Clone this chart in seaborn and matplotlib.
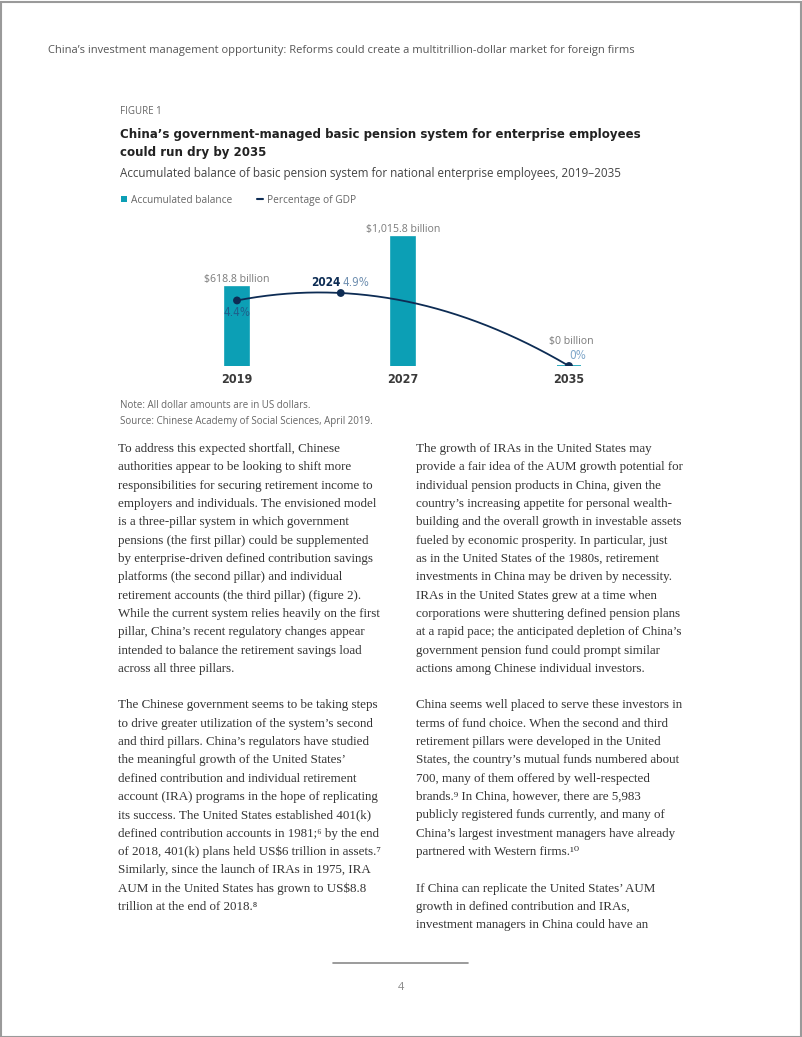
import numpy as np
import pandas as pd
import matplotlib
matplotlib.use("Agg")
import matplotlib.pyplot as plt
from matplotlib import font_manager as fm
from matplotlib.patches import Rectangle, Patch
from matplotlib.lines import Line2D
import seaborn as sns

# chart data
years = [2019, 2027, 2035]
balance_bn = [618.8, 1015.8, 0.0]
balance_labels = ["$618.8 billion", "$1,015.8 billion", "$0 billion"]
gdp_years = [2019, 2024, 2035]
gdp_pct = [4.4, 4.9, 0.0]
gdp_labels = ["4.4%", "4.9%", "0%"]

header = "China’s investment management opportunity: Reforms could create a multitrillion-dollar market for foreign firms"
fig_label = "FIGURE 1"
title_lines = ["China’s government-managed basic pension system for enterprise employees",
               "could run dry by 2035"]
subtitle = "Accumulated balance of basic pension system for national enterprise employees, 2019–2035"
notes = ["Note: All dollar amounts are in US dollars.",
         "Source: Chinese Academy of Social Sciences, April 2019."]

left_col = [
    "To address this expected shortfall, Chinese",
    "authorities appear to be looking to shift more",
    "responsibilities for securing retirement income to",
    "employers and individuals. The envisioned model",
    "is a three-pillar system in which government",
    "pensions (the first pillar) could be supplemented",
    "by enterprise-driven defined contribution savings",
    "platforms (the second pillar) and individual",
    "retirement accounts (the third pillar) (figure 2).",
    "While the current system relies heavily on the first",
    "pillar, China’s recent regulatory changes appear",
    "intended to balance the retirement savings load",
    "across all three pillars.",
    "",
    "The Chinese government seems to be taking steps",
    "to drive greater utilization of the system’s second",
    "and third pillars. China’s regulators have studied",
    "the meaningful growth of the United States’",
    "defined contribution and individual retirement",
    "account (IRA) programs in the hope of replicating",
    "its success. The United States established 401(k)",
    "defined contribution accounts in 1981;⁶ by the end",
    "of 2018, 401(k) plans held US$6 trillion in assets.⁷",
    "Similarly, since the launch of IRAs in 1975, IRA",
    "AUM in the United States has grown to US$8.8",
    "trillion at the end of 2018.⁸",
]
right_col = [
    "The growth of IRAs in the United States may",
    "provide a fair idea of the AUM growth potential for",
    "individual pension products in China, given the",
    "country’s increasing appetite for personal wealth-",
    "building and the overall growth in investable assets",
    "fueled by economic prosperity. In particular, just",
    "as in the United States of the 1980s, retirement",
    "investments in China may be driven by necessity.",
    "IRAs in the United States grew at a time when",
    "corporations were shuttering defined pension plans",
    "at a rapid pace; the anticipated depletion of China’s",
    "government pension fund could prompt similar",
    "actions among Chinese individual investors.",
    "",
    "China seems well placed to serve these investors in",
    "terms of fund choice. When the second and third",
    "retirement pillars were developed in the United",
    "States, the country’s mutual funds numbered about",
    "700, many of them offered by well-respected",
    "brands.⁹ In China, however, there are 5,983",
    "publicly registered funds currently, and many of",
    "China’s largest investment managers have already",
    "partnered with Western firms.¹⁰",
    "",
    "If China can replicate the United States’ AUM",
    "growth in defined contribution and IRAs,",
    "investment managers in China could have an",
]

TEAL = "#0c9fb5"
NAVY = "#0d2c54"
GREY = "#7a7a7a"
SANS = ["Open Sans", "DejaVu Sans"]
SERIF = ["Liberation Serif", "DejaVu Serif"]


def narrow_face(bold):
    # look for any installed condensed / narrow sans face, else fall back to Roboto
    for f in fm.fontManager.ttflist:
        w = f.weight if isinstance(f.weight, int) else fm.weight_dict.get(f.weight, 400)
        narrow = ("Narrow" in f.name or "Condensed" in f.name
                  or f.stretch in ("condensed", "semi-condensed"))
        if narrow and "Sans" in f.name and f.style == "normal" and ((w >= 600) == bold):
            return fm.FontProperties(fname=f.fname)
    return fm.FontProperties(family=["Roboto", "DejaVu Sans"], weight="bold" if bold else "normal")


NARROW_B = narrow_face(True)
NARROW_R = narrow_face(False)


def fp(base, size):
    p = base.copy()
    p.set_size(size)
    return p


sns.set_theme(style="white")
plt.rcParams["font.family"] = SANS

W, H = 802, 1037
fig = plt.figure(figsize=(W / 100, H / 100), dpi=100)
fig.patch.set_facecolor("white")


def put(x, y, s, **kw):
    kw.setdefault("va", "center")
    kw.setdefault("parse_math", False)
    return fig.text(x / W, 1 - y / H, s, **kw)


# page frame and header
fig.add_artist(Rectangle((0.5 / W, 0.5 / H), 1 - 2 / W, 1 - 2 / H, transform=fig.transFigure,
                         fill=False, edgecolor="#9a9a9a", lw=1.5))
put(48, 51, header, fontsize=8.0, color="#555555", family=SANS)

# figure headings
put(120, 112, fig_label, fontsize=7, color="#666666", family=SANS)
t1 = put(120, 134, title_lines[0], fontproperties=fp(NARROW_B, 12), color="#222222")
t2 = put(120, 153, title_lines[1], fontproperties=fp(NARROW_B, 12), color="#222222")
# fit the title width to the reference column (120 -> 634 px)
r = fig.canvas.get_renderer()
tw = t1.get_window_extent(r).width
tsize = min(13.5, 12 * 518 / tw)
t1.set_fontsize(tsize)
t2.set_fontsize(tsize)
put(120, 173, subtitle, fontsize=8.4, color="#444444", family=SANS)

handles = [Patch(facecolor=TEAL, edgecolor="none", label="Accumulated balance"),
           Line2D([], [], color=NAVY, lw=1.5, label="Percentage of GDP")]
fig.legend(handles=handles, loc="center left", bbox_to_anchor=(112 / W, 1 - 200 / H),
           ncol=2, frameon=False, fontsize=7.3, handlelength=0.6, handleheight=0.6,
           handletextpad=0.4, columnspacing=2.4, labelcolor="#666666")

# chart axes
ax_left, ax_right, ax_top, ax_bottom = 200, 610, 220, 366
ax = fig.add_axes([ax_left / W, 1 - ax_bottom / H, (ax_right - ax_left) / W, (ax_bottom - ax_top) / H])
px_per_year = (569 - 237) / (2035 - 2019)
bar_w_years = 24 / px_per_year

df_bal = pd.DataFrame({"year": years, "balance": balance_bn})
sns.barplot(data=df_bal, x="year", y="balance", native_scale=True, width=bar_w_years / 8,
            color=TEAL, saturation=1, edgecolor=TEAL, linewidth=1.2, ax=ax)
ax.set_xlim(2019 - (237 - ax_left) / px_per_year, 2019 + (ax_right - 237) / px_per_year)
ax.set_ylim(0, (ax_bottom - ax_top) * 1015.8 / 129)
ax.set_xticks(years)
ax.set_xticklabels([str(y) for y in years], fontproperties=fp(NARROW_B, 9), color="#3a3a3a")
ax.tick_params(axis="x", length=0, pad=5)
ax.set_yticks([])
ax.set_xlabel("")
ax.set_ylabel("")
for s in ax.spines.values():
    s.set_visible(False)
ax.patch.set_alpha(0)

for yr, v, lab, dy, dx in zip(years, balance_bn, balance_labels, [1.5, 1.5, 13.5], [0, 0, 2]):
    ax.annotate(lab, (yr, v), xytext=(dx, dy), textcoords="offset points", ha="center",
                va="bottom", fontsize=7.6, color=GREY, family=SANS, annotation_clip=False)

# percentage of GDP line on twin axis
ax2 = ax.twinx()
ax2.set_ylim(0, (ax_bottom - ax_top) * 4.9 / 73)
fit = np.polyfit(gdp_years, gdp_pct, 2)
xs = np.linspace(gdp_years[0], gdp_years[-1], 200)
sns.lineplot(x=xs, y=np.polyval(fit, xs), color=NAVY, lw=1.3, ax=ax2)
sns.scatterplot(x=gdp_years, y=gdp_pct, color=NAVY, s=32, edgecolor="none", zorder=5, ax=ax2)
ax2.set_yticks([])
for s in ax2.spines.values():
    s.set_visible(False)

ax2.annotate(gdp_labels[0], (gdp_years[0], gdp_pct[0]), xytext=(0, -4), textcoords="offset points",
             ha="center", va="top", fontproperties=fp(NARROW_R, 8.5), color="#1f5f8b")
ax2.annotate(str(gdp_years[1]), (gdp_years[1], gdp_pct[1]), xytext=(0, 3), textcoords="offset points",
             ha="right", va="bottom", fontproperties=fp(NARROW_B, 8.5), color=NAVY)
ax2.annotate(gdp_labels[1], (gdp_years[1], gdp_pct[1]), xytext=(1.5, 3), textcoords="offset points",
             ha="left", va="bottom", fontproperties=fp(NARROW_R, 8.5), color="#6f8fb0")
ax2.annotate(gdp_labels[2], (gdp_years[2], gdp_pct[2]), xytext=(6, 3), textcoords="offset points",
             ha="center", va="bottom", fontproperties=fp(NARROW_R, 8.5), color="#7fa6c9")

# notes
put(120, 405, notes[0], fontsize=7, color="#666666", family=SANS)
put(120, 421, notes[1], fontsize=7, color="#666666", family=SANS)

# body text
line_h = (907 - 449) / 25
for i, s in enumerate(left_col):
    put(118, 449 + i * line_h, s, fontsize=9.4, color="#333333", family=SERIF)
for i, s in enumerate(right_col):
    put(416, 449 + i * line_h, s, fontsize=9.4, color="#333333", family=SERIF)

# footer
fig.add_artist(Line2D([333 / W, 468 / W], [1 - 963 / H] * 2, color="#8a8a8a", lw=1.2,
                      transform=fig.transFigure))
put(401, 988, "4", fontsize=8, color="#888888", ha="center", family=SANS)

fig.savefig("out.png", dpi=100, facecolor="white")
